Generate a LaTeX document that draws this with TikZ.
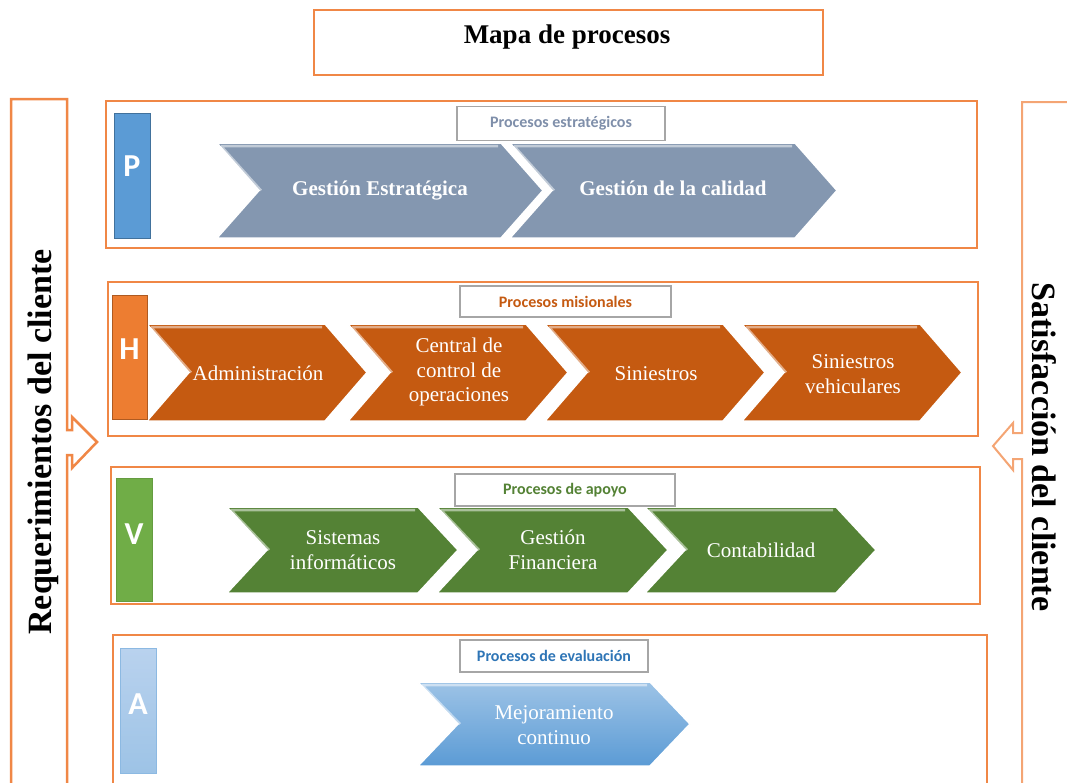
\documentclass[tikz,border=0pt]{standalone}
\usepackage{fontspec}
\setmainfont{Liberation Serif}
\newfontfamily\calibri{Carlito}
\usepackage{tikz}
\usetikzlibrary{arrows}

\definecolor{marco}{RGB}{240,135,70}
\definecolor{grisborde}{RGB}{166,166,166}
\definecolor{estrat}{RGB}{132,151,176}
\definecolor{estratTxt}{RGB}{127,143,170}
\definecolor{azulP}{RGB}{91,155,213}
\definecolor{azulPborde}{RGB}{65,113,156}
\definecolor{misional}{RGB}{197,90,17}
\definecolor{naranjaH}{RGB}{237,125,49}
\definecolor{naranjaHborde}{RGB}{174,90,33}
\definecolor{apoyo}{RGB}{84,130,53}
\definecolor{verdeV}{RGB}{112,173,71}
\definecolor{evalTxt}{RGB}{46,117,182}
\definecolor{evalClaro}{RGB}{157,195,230}
\definecolor{evalOscuro}{RGB}{91,155,213}
\definecolor{celesteA}{RGB}{185,210,238}

\newcommand{\procchev}[6] % {x}{y}{ancho}{alto}{punta}{estilo}
{
	\path [#6, draw=white, line width=1.5pt] (#1,#2) -- (#1+#3-#5,#2) -- (#1+#3,#2+#4/2) -- (#1+#3-#5,#2+#4) -- (#1,#2+#4) -- (#1+#5,#2+#4/2) -- cycle;
	\draw [white, opacity=0.5, line width=2.5pt] (#1+4,#2+3) -- (#1+#5+2,#2+#4/2) (#1+4,#2+3) -- (#1+#3-#5-3,#2+3);
}

\tikzset{
	panel/.style={draw=marco, line width=2pt},
	etiqueta/.style={draw=grisborde, fill=white, line width=1.2pt, inner sep=0pt, font=\calibri\bfseries\fontsize{16}{18}\selectfont},
	cuadro/.style={line width=1pt, inner sep=0pt},
	letra/.style={text=white, inner sep=0pt, font=\calibri\bfseries\fontsize{32}{34}\selectfont},
	chevtexto/.style={text=white, align=center, inner sep=0pt, font=\fontsize{21}{24.5}\selectfont},
	chevnegrita/.style={chevtexto, text height=14pt, text depth=5pt, font=\bfseries\fontsize{21}{24.5}\selectfont},
	lado/.style={inner sep=0pt, font=\bfseries\fontsize{34}{36}\selectfont}
}

\begin{document}
\begin{tikzpicture}[x=1pt, y=-1pt]
	\useasboundingbox (0,0) rectangle (1067,782);
	\clip (0,0) rectangle (1067,782);

	% titulo
	\draw [marco, line width=1.5pt] (314,10) rectangle (823,75);
	\node [font=\bfseries\fontsize{27}{30}\selectfont, inner sep=0pt] (titulo) at (567,37) {Mapa de procesos};

	% entradas y salidas
	\draw [marco, line width=2.5pt] (11,800) -- (11,99) -- (67,99) -- (67,430) -- (72,430) -- (72,417) -- (97,442) -- (72,468) -- (72,455) -- (67,455) -- (67,800);
	\node [lado, rotate=90] (requerimientos) at (43,442) {Requerimientos del cliente};
	\draw [marco!75, line width=2pt] (1080,102) -- (1022,102) -- (1022,433) -- (1013,433) -- (1013,423) -- (993,446) -- (1013,470) -- (1013,459) -- (1022,459) -- (1022,800);
	\node [lado, rotate=-90] (satisfaccion) at (1044,447) {Satisfacción del cliente};

	% procesos estrategicos
	\draw [panel] (106,101) rectangle (977,248);
	\procchev{217}{143}{326}{95}{42}{fill=estrat}
	\procchev{510}{143}{327}{95}{42}{fill=estrat}
	\node [etiqueta, text=estratTxt, minimum width=208pt, minimum height=34pt] (etiqP) at (561,123.5) {Procesos estratégicos};
	\node [cuadro, fill=azulP, draw=azulPborde, minimum width=36pt, minimum height=125pt] (cuadroP) at (132,175.5) {};
	\node [letra] (letraP) at ([yshift=9pt]cuadroP.center) {P};
	\node [chevnegrita] (gestEstrategica) at (380,191) {Gestión Estratégica};
	\node [chevnegrita] (gestCalidad) at (673,191) {Gestión de la calidad};

	% procesos misionales
	\draw [panel] (108,282) rectangle (978,436);
	\procchev{147}{324}{220}{97}{42}{fill=misional}
	\procchev{348}{324}{220}{97}{42}{fill=misional}
	\procchev{545}{324}{220}{97}{42}{fill=misional}
	\procchev{742}{324}{220}{97}{42}{fill=misional}
	\node [etiqueta, text=misional, minimum width=211pt, minimum height=31pt] (etiqH) at (565.5,301.5) {Procesos misionales};
	\node [cuadro, fill=naranjaH, draw=naranjaHborde, minimum width=35pt, minimum height=124pt] (cuadroH) at (129.5,357) {};
	\node [letra] (letraH) at ([yshift=8pt]cuadroH.center) {H};
	\node [chevtexto] (administracion) at (258,373) {Administración};
	\node [chevtexto] (central) at (459,372) {Central de\\control de\\operaciones};
	\node [chevtexto] (siniestros) at (656,374) {Siniestros};
	\node [chevtexto] (vehiculares) at (853,374) {Siniestros\\vehiculares};

	% procesos de apoyo
	\draw [panel] (111,467) rectangle (980,604);
	\procchev{227}{507}{231}{86}{40}{fill=apoyo}
	\procchev{437}{507}{231}{86}{40}{fill=apoyo}
	\procchev{645}{507}{231}{86}{40}{fill=apoyo}
	\node [etiqueta, text=apoyo, minimum width=220pt, minimum height=32pt] (etiqV) at (565,490) {Procesos de apoyo};
	\node [cuadro, fill=verdeV, draw=verdeV!90!black, minimum width=36pt, minimum height=123pt] (cuadroV) at (134,539.5) {};
	\node [letra] (letraV) at ([yshift=5pt]cuadroV.center) {V};
	\node [chevtexto] (sistemas) at (343,550) {Sistemas\\informáticos};
	\node [chevtexto] (financiera) at (553,550) {Gestión\\Financiera};
	\node [chevtexto] (contabilidad) at (761,550) {Contabilidad};

	% procesos de evaluacion
	\draw [panel] (113,635) rectangle (987,800);
	\procchev{418}{682}{272}{84}{40}{top color=evalClaro, bottom color=evalOscuro}
	\node [etiqueta, text=evalTxt, minimum width=188pt, minimum height=32pt] (etiqA) at (554,656) {Procesos de evaluación};
	\node [cuadro, top color=celesteA, bottom color=evalClaro, draw=evalOscuro!70, minimum width=36pt, minimum height=125pt] (cuadroA) at (138,710.5) {};
	\node [letra] (letraA) at ([yshift=6pt]cuadroA.center) {A};
	\node [chevtexto] (mejoramiento) at (554,725) {Mejoramiento\\continuo};
\end{tikzpicture}
\end{document}
